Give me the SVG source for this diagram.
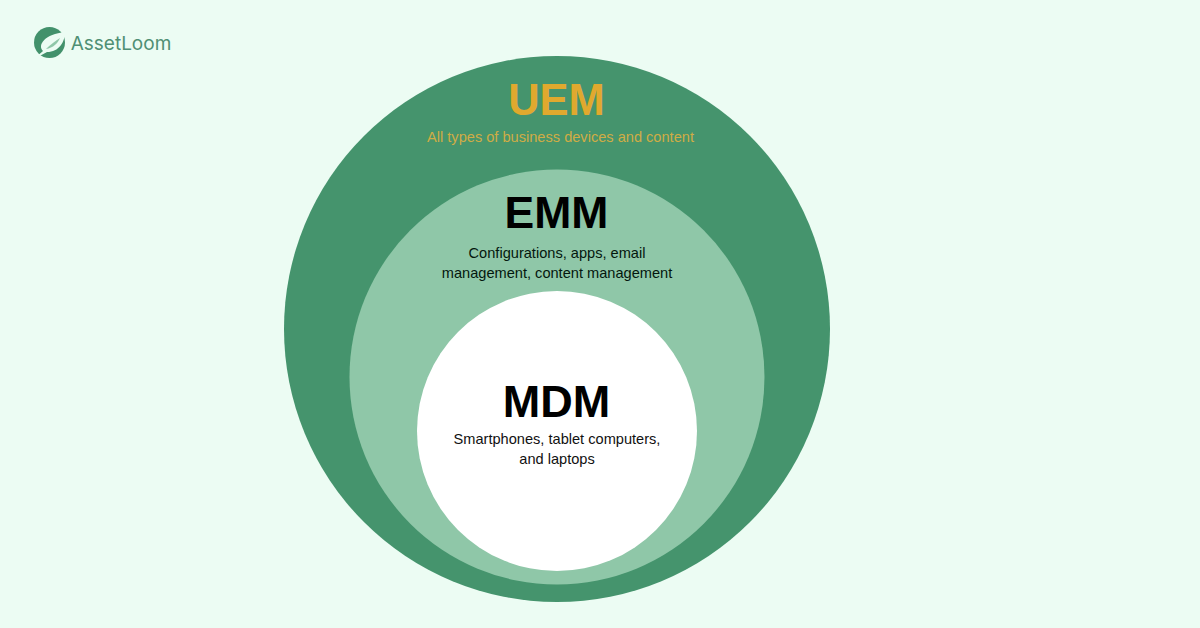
<svg xmlns="http://www.w3.org/2000/svg" width="1200" height="628" viewBox="0 0 1200 628">
<style>
.t{font-family:"Liberation Sans",Arial,sans-serif;text-anchor:middle}
.h{font-size:44.5px;font-weight:700;font-family:"Liberation Sans",Arial,sans-serif;text-anchor:middle}
.s{font-size:14.6px}
</style>
<rect width="1200" height="628" fill="#ecfcf3"/>
<g id="logo">
<circle cx="49.500" cy="42.500" r="15.500" fill="#42916b"/>
<path d="M34 58C38 55 41 53 43 51C37 45 45 34 65 32C65 42 59 52 47 52C43 54 38 57 34 58Z" fill="#ecfcf3"/>
<path d="M46 49C50 45 55 41 60 38C58 43 53 48 46 49Z" fill="#8fc7a8"/>
<text x="121" y="50" style="font-family:'Inter','Liberation Sans',sans-serif;font-size:19px;text-anchor:middle" fill="#4f8f74">AssetLoom</text>
</g>
<g id="uem">
<circle cx="557" cy="329" r="273" fill="#45946d"/>
<text class="h" x="556.500" y="114.500" fill="#e0a92e" style="font-size:43.500px">UEM</text>
<text class="t s" x="560.500" y="142" fill="#d0ac45">All types of business devices and content</text>
</g>
<g id="emm">
<circle cx="557" cy="377" r="207.500" fill="#8fc7a8"/>
<text class="h" x="556.500" y="228" fill="#000">EMM</text>
<text class="t s" x="557" y="258" fill="#04170e">Configurations, apps, email</text>
<text class="t s" x="557" y="278" fill="#04170e">management, content management</text>
</g>
<g id="mdm">
<circle cx="557" cy="431" r="140" fill="#fff"/>
<text class="h" x="556.500" y="416.500" fill="#000" style="font-size:45px">MDM</text>
<text class="t s" x="557" y="444" fill="#111">Smartphones, tablet computers,</text>
<text class="t s" x="557" y="464" fill="#111">and laptops</text>
</g>
</svg>
